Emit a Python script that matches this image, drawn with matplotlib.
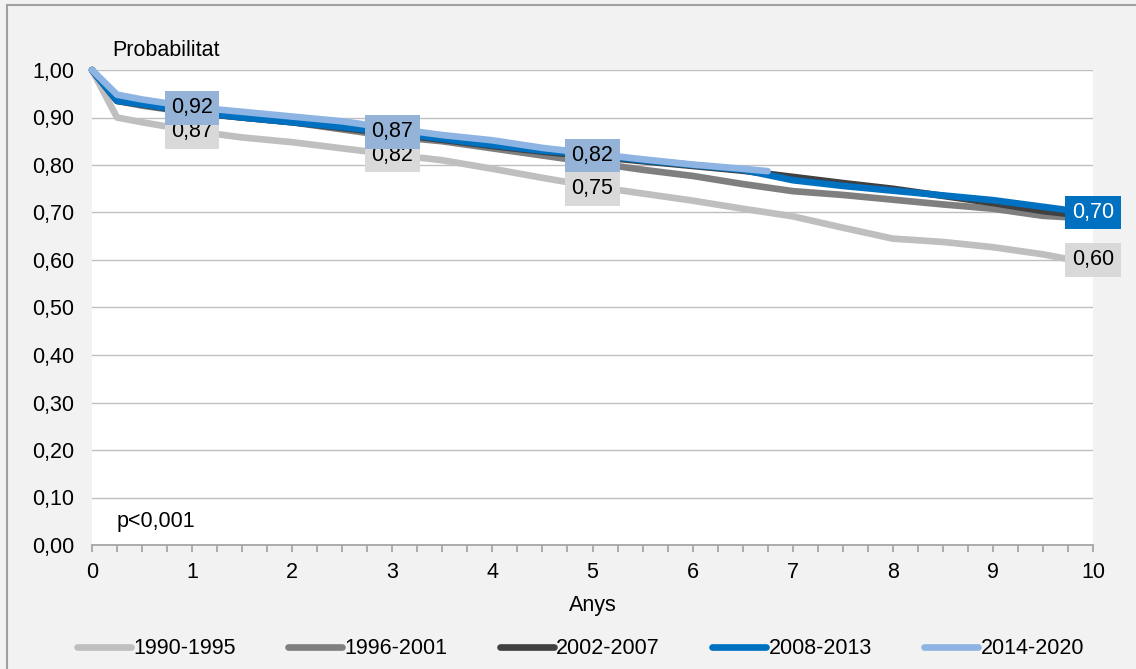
import numpy as np
import matplotlib.pyplot as plt
from matplotlib.lines import Line2D
from matplotlib.ticker import FuncFormatter, MultipleLocator

plt.rcParams['font.family'] = ['Liberation Sans', 'DejaVu Sans']

# Supervivencia per periode (valors llegits del grafic)
periods = ["1990-1995", "1996-2001", "2002-2007", "2008-2013", "2014-2020"]
colors = ["#bfbfbf", "#7f7f7f", "#404040", "#0070c0", "#8db4e2"]

x_full = [0, 0.25, 0.5, 1, 1.5, 2, 2.5, 3, 3.5, 4, 4.5, 5, 5.5, 6, 6.5, 7, 7.5, 8, 8.5, 9, 9.5, 9.75]
y_1990 = [1.00, 0.900, 0.890, 0.872, 0.858, 0.848, 0.835, 0.822, 0.810, 0.792, 0.773, 0.755, 0.740, 0.725, 0.708, 0.692, 0.668, 0.645, 0.638, 0.627, 0.612, 0.602]
y_1996 = [1.00, 0.935, 0.925, 0.910, 0.900, 0.890, 0.875, 0.860, 0.850, 0.835, 0.820, 0.805, 0.790, 0.777, 0.760, 0.745, 0.737, 0.727, 0.717, 0.708, 0.693, 0.690]
y_2002 = [1.00, 0.935, 0.927, 0.911, 0.900, 0.890, 0.878, 0.866, 0.853, 0.840, 0.828, 0.818, 0.808, 0.798, 0.788, 0.775, 0.762, 0.750, 0.735, 0.720, 0.703, 0.697]
y_2008 = [1.00, 0.935, 0.928, 0.912, 0.900, 0.890, 0.880, 0.868, 0.855, 0.842, 0.830, 0.822, 0.810, 0.800, 0.790, 0.768, 0.756, 0.746, 0.736, 0.726, 0.712, 0.705]
x_2014 = [0, 0.25, 0.5, 1, 1.5, 2, 2.5, 3, 3.5, 4, 4.5, 5, 5.5, 6, 6.5, 6.75]
y_2014 = [1.00, 0.948, 0.938, 0.922, 0.912, 0.902, 0.892, 0.877, 0.863, 0.852, 0.836, 0.824, 0.812, 0.801, 0.792, 0.787]

# etiquetes de dades: (x, valor, color caixa, color text)
lab_x = [1, 1, 3, 3, 5, 5, 10, 10]
lab_v = [0.87, 0.92, 0.82, 0.87, 0.75, 0.82, 0.60, 0.70]
lab_bg = ["#d9d9d9", "#95b3d7", "#d9d9d9", "#95b3d7", "#d9d9d9", "#95b3d7", "#d9d9d9", "#0070c0"]
lab_fg = ["black", "black", "black", "black", "black", "black", "black", "white"]

FS = 15.5

fig = plt.figure(figsize=(11.36, 6.69), dpi=100, facecolor="#f2f2f2")
ax = fig.add_axes([92/1136, 124/669, 1001/1136, 475/669])
ax.set_facecolor("white")

series_x = [x_full, x_full, x_full, x_full, x_2014]
series_y = [y_1990, y_1996, y_2002, y_2008, y_2014]
for i in range(5):
    ax.plot(series_x[i], series_y[i], color=colors[i], lw=4.8, solid_capstyle="round",
            solid_joinstyle="round", zorder=3 + i, clip_on=False)

for xv, v, bg, fg in zip(lab_x, lab_v, lab_bg, lab_fg):
    ax.text(xv, v, f"{v:.2f}".replace(".", ","), ha="center", va="center", fontsize=FS, color=fg,
            bbox=dict(boxstyle="square,pad=0.3", fc=bg, ec="none"), zorder=20, clip_on=False)

ax.set_xlim(0, 10)
ax.set_ylim(0, 1)
ax.xaxis.set_major_locator(MultipleLocator(1))
ax.xaxis.set_minor_locator(MultipleLocator(0.25))
ax.yaxis.set_major_locator(MultipleLocator(0.1))
ax.yaxis.set_major_formatter(FuncFormatter(lambda v, p: f"{v:.2f}".replace(".", ",")))
ax.grid(axis="y", color="#bfbfbf", lw=1)
ax.set_axisbelow(True)
for s in ["top", "right", "left"]:
    ax.spines[s].set_visible(False)
ax.spines["bottom"].set_color("#a6a6a6")
ax.spines["bottom"].set_linewidth(1.3)
ax.tick_params(axis="y", length=0, pad=13, labelsize=FS)
ax.tick_params(axis="x", which="both", length=5, color="#a6a6a6", width=1.3, pad=7, labelsize=FS)

ax.set_xlabel("Anys", fontsize=FS, labelpad=9)
fig.text(112/1136, 1 - 50/669, "Probabilitat", fontsize=FS, va="center", ha="left")
ax.text(0.25, 0.05, "p<0,001", fontsize=FS, va="center", ha="left")

handles = [Line2D([0], [0], color=c, lw=4.8, solid_capstyle="round") for c in colors]
fig.legend(handles, periods, loc="center", bbox_to_anchor=(0.511, 1 - 649/669), ncol=5,
           frameon=False, fontsize=FS, handlelength=2.5, handletextpad=0.1, columnspacing=2.45)

# marc exterior
fig.add_artist(Line2D([7/1136, 1], [1 - 5/669, 1 - 5/669], color="#a0a0a0", lw=1.5))
fig.add_artist(Line2D([7/1136, 7/1136], [0, 1 - 5/669], color="#a0a0a0", lw=1.5))

fig.savefig("out.png", dpi=100, facecolor=fig.get_facecolor())
